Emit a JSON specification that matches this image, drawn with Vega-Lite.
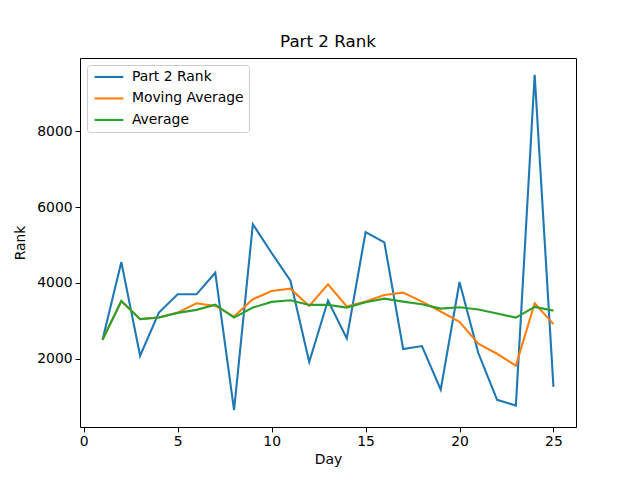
{
  "$schema": "https://vega.github.io/schema/vega-lite/v6.json",
  "width": 496,
  "height": 369,
  "autosize": {"type": "none"},
  "padding": {"left": 80, "top": 58, "right": 64, "bottom": 53},
  "background": "white",
  "config": {
    "font": "DejaVu Sans",
    "view": {"stroke": "black", "strokeWidth": 1},
    "axis": {"grid": false, "domain": false, "tickColor": "black", "tickSize": 4.9, "labelFontSize": 13.9, "labelColor": "black", "titleFontSize": 13.9, "titleFontWeight": "normal", "titleColor": "black", "labelPadding": 3},
    "title": {"fontSize": 16.7, "fontWeight": "normal", "color": "black"}
  },
  "title": {"text": "Part 2 Rank", "offset": 7},
  "datasets": {
    "rows": [
      {"day": 1, "series": "Part 2 Rank", "rank": 2500},
      {"day": 2, "series": "Part 2 Rank", "rank": 4551},
      {"day": 3, "series": "Part 2 Rank", "rank": 2079},
      {"day": 4, "series": "Part 2 Rank", "rank": 3218},
      {"day": 5, "series": "Part 2 Rank", "rank": 3700},
      {"day": 6, "series": "Part 2 Rank", "rank": 3700},
      {"day": 7, "series": "Part 2 Rank", "rank": 4270},
      {"day": 8, "series": "Part 2 Rank", "rank": 640},
      {"day": 9, "series": "Part 2 Rank", "rank": 5550},
      {"day": 10, "series": "Part 2 Rank", "rank": 4790},
      {"day": 11, "series": "Part 2 Rank", "rank": 4060},
      {"day": 12, "series": "Part 2 Rank", "rank": 1913},
      {"day": 13, "series": "Part 2 Rank", "rank": 3535},
      {"day": 14, "series": "Part 2 Rank", "rank": 2534},
      {"day": 15, "series": "Part 2 Rank", "rank": 5340},
      {"day": 16, "series": "Part 2 Rank", "rank": 5070},
      {"day": 17, "series": "Part 2 Rank", "rank": 2255},
      {"day": 18, "series": "Part 2 Rank", "rank": 2334},
      {"day": 19, "series": "Part 2 Rank", "rank": 1185},
      {"day": 20, "series": "Part 2 Rank", "rank": 4025},
      {"day": 21, "series": "Part 2 Rank", "rank": 2150},
      {"day": 22, "series": "Part 2 Rank", "rank": 914},
      {"day": 23, "series": "Part 2 Rank", "rank": 764},
      {"day": 24, "series": "Part 2 Rank", "rank": 9496},
      {"day": 25, "series": "Part 2 Rank", "rank": 1255},
      {"day": 1, "series": "Moving Average", "rank": 2500},
      {"day": 2, "series": "Moving Average", "rank": 3525},
      {"day": 3, "series": "Moving Average", "rank": 3044},
      {"day": 4, "series": "Moving Average", "rank": 3086},
      {"day": 5, "series": "Moving Average", "rank": 3218},
      {"day": 6, "series": "Moving Average", "rank": 3465},
      {"day": 7, "series": "Moving Average", "rank": 3394},
      {"day": 8, "series": "Moving Average", "rank": 3113},
      {"day": 9, "series": "Moving Average", "rank": 3570},
      {"day": 10, "series": "Moving Average", "rank": 3788},
      {"day": 11, "series": "Moving Average", "rank": 3850},
      {"day": 12, "series": "Moving Average", "rank": 3394},
      {"day": 13, "series": "Moving Average", "rank": 3964},
      {"day": 14, "series": "Moving Average", "rank": 3377},
      {"day": 15, "series": "Moving Average", "rank": 3508},
      {"day": 16, "series": "Moving Average", "rank": 3683},
      {"day": 17, "series": "Moving Average", "rank": 3744},
      {"day": 18, "series": "Moving Average", "rank": 3508},
      {"day": 19, "series": "Moving Average", "rank": 3245},
      {"day": 20, "series": "Moving Average", "rank": 2973},
      {"day": 21, "series": "Moving Average", "rank": 2395},
      {"day": 22, "series": "Moving Average", "rank": 2131},
      {"day": 23, "series": "Moving Average", "rank": 1816},
      {"day": 24, "series": "Moving Average", "rank": 3465},
      {"day": 25, "series": "Moving Average", "rank": 2913},
      {"day": 1, "series": "Average", "rank": 2500},
      {"day": 2, "series": "Average", "rank": 3525},
      {"day": 3, "series": "Average", "rank": 3044},
      {"day": 4, "series": "Average", "rank": 3086},
      {"day": 5, "series": "Average", "rank": 3210},
      {"day": 6, "series": "Average", "rank": 3289},
      {"day": 7, "series": "Average", "rank": 3428},
      {"day": 8, "series": "Average", "rank": 3086},
      {"day": 9, "series": "Average", "rank": 3350},
      {"day": 10, "series": "Average", "rank": 3500},
      {"day": 11, "series": "Average", "rank": 3544},
      {"day": 12, "series": "Average", "rank": 3420},
      {"day": 13, "series": "Average", "rank": 3420},
      {"day": 14, "series": "Average", "rank": 3350},
      {"day": 15, "series": "Average", "rank": 3490},
      {"day": 16, "series": "Average", "rank": 3586},
      {"day": 17, "series": "Average", "rank": 3508},
      {"day": 18, "series": "Average", "rank": 3438},
      {"day": 19, "series": "Average", "rank": 3323},
      {"day": 20, "series": "Average", "rank": 3360},
      {"day": 21, "series": "Average", "rank": 3297},
      {"day": 22, "series": "Average", "rank": 3192},
      {"day": 23, "series": "Average", "rank": 3086},
      {"day": 24, "series": "Average", "rank": 3368},
      {"day": 25, "series": "Average", "rank": 3270}
    ]
  },
  "data": {"name": "rows"},
  "encoding": {
    "x": {"field": "day", "type": "quantitative", "title": "Day",
      "scale": {"domain": [-0.2, 26.2], "nice": false, "zero": false},
      "axis": {"values": [0, 5, 10, 15, 20, 25], "titlePadding": 4}},
    "y": {"field": "rank", "type": "quantitative", "title": "Rank",
      "scale": {"domain": [197, 9939], "nice": false, "zero": false},
      "axis": {"values": [2000, 4000, 6000, 8000], "format": "d", "titlePadding": 9}},
    "color": {"field": "series", "type": "nominal",
      "scale": {"domain": ["Part 2 Rank", "Moving Average", "Average"], "range": ["#1f77b4", "#ff7f0e", "#2ca02c"]},
      "legend": {"title": null, "orient": "none", "legendX": 7, "legendY": 7,
        "symbolType": "M-3.6,0H3.6", "symbolSize": 64, "symbolStrokeWidth": 2.1, "symbolOffset": 10,
        "labelFontSize": 13.9, "labelColor": "black", "rowPadding": 6.5, "labelOffset": 16,
        "padding": 5, "fillColor": "white", "strokeColor": "#cccccc", "cornerRadius": 3}}
  },
  "layer": [
    {"transform": [{"filter": "datum.series == 'Part 2 Rank'"}], "mark": {"type": "line", "strokeWidth": 2.1}},
    {"transform": [{"filter": "datum.series == 'Moving Average'"}], "mark": {"type": "line", "strokeWidth": 2.1}},
    {"transform": [{"filter": "datum.series == 'Average'"}], "mark": {"type": "line", "strokeWidth": 2.1}}
  ]
}
